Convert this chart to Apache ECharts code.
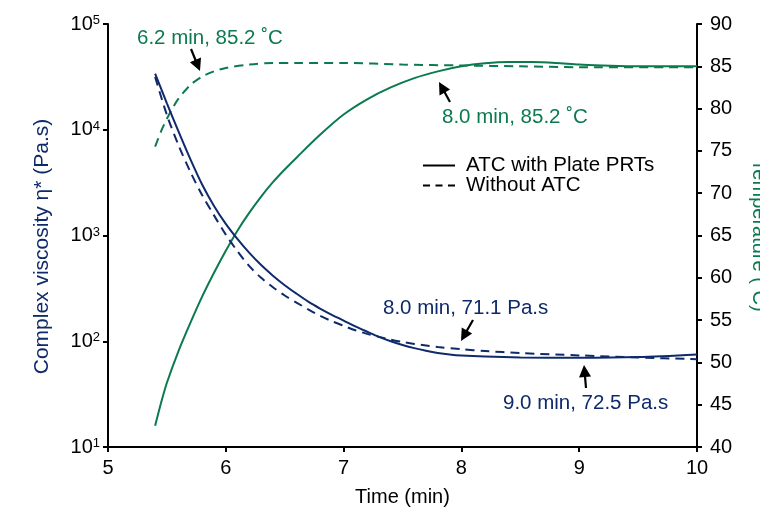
<!DOCTYPE html>
<html>
<head>
<meta charset="utf-8">
<script src="https://cdn.jsdelivr.net/npm/echarts@6/dist/echarts.min.js"></script>
<style>html,body{margin:0;padding:0;background:#fff}#c{width:760px;height:511px}</style>
</head>
<body>
<div id="c"></div>
<script>
// ---- data ----
const viscTime = [5.4,5.5,5.6,5.7,5.8,5.9,6.0,6.1,6.2,6.3,6.4,6.5,6.6,6.7,6.8,6.9,7.0,7.1,7.2,7.3,7.4,7.5,7.6,7.7,7.8,7.9,8.0,8.2,8.5,9.0,9.5,10.0];
const viscATC  = [33900,17800,9550,5250,3020,1905,1288,923,684,525,417,339,282,237,204,178,157,138,123,110,100,92.3,86.1,81.3,77.6,75.0,73.3,71.6,70.3,69.7,70.8,75.0];
const viscNoATCTime = [5.4,5.5,5.6,5.7,5.8,5.9,6.0,6.1,6.2,6.3,6.4,6.5,6.6,6.7,6.8,6.9,7.0,7.1,7.2,7.3,7.4,7.5,7.6,7.7,7.8,8.0,8.2,8.5,9.0,9.5,10.0];
const viscNoATC = [31600,13800,7080,3980,2400,1550,1020,708,513,398,324,271,232,200,174,155,140,127,117.5,110,103.5,98.4,94.4,91.2,88.3,84.1,80.9,77.4,73.5,70.3,67.6];
const tempATCTime = [5.40,5.45,5.50,5.60,5.70,5.80,5.90,6.00,6.10,6.20,6.30,6.40,6.50,6.60,6.80,7.00,7.20,7.40,7.60,7.80,8.00,8.20,8.40,8.60,8.80,9.00,9.20,9.50,10.0];
const tempATC     = [42.5,45.2,47.6,51.4,54.7,57.8,60.6,63.2,65.6,67.7,69.6,71.3,72.8,74.2,76.9,79.3,81.1,82.5,83.6,84.4,85.0,85.35,85.5,85.5,85.4,85.2,85.1,85.0,85.0];
const tempNoATCTime = [5.40,5.45,5.50,5.55,5.60,5.70,5.80,5.90,6.00,6.20,6.40,6.60,7.00,7.50,8.00,8.50,9.00,10.0];
const tempNoATC     = [75.5,77.3,78.8,80.1,81.2,82.8,83.8,84.4,84.8,85.2,85.4,85.4,85.4,85.2,85.1,85.0,84.9,84.9];
const xTicks = [5,6,7,8,9,10];
const viscTickExponents = [1,2,3,4,5];
const tempTicks = [40,45,50,55,60,65,70,75,80,85,90];
const legendNames = ['ATC with Plate PRTs','Without ATC'];
const annotations = ['6.2 min, 85.2 \u02DAC','8.0 min, 85.2 \u02DAC','8.0 min, 71.1 Pa.s','9.0 min, 72.5 Pa.s'];

// ---- style ----
const NAVY = '#0f2a6b';
const GREEN = '#0b7a4f';
const FONT = 'Liberation Sans, Arial, sans-serif';
const DASH = [9,6];
const pairs = (xs, ys) => xs.map((x, i) => [x, ys[i]]);

function arrow(tail, tip) {
  const dx = tip[0]-tail[0], dy = tip[1]-tail[1];
  const L = Math.sqrt(dx*dx+dy*dy), ux = dx/L, uy = dy/L;
  const hl = 12, hw = 6;
  const bx = tip[0]-ux*hl, by = tip[1]-uy*hl;
  return [
    {type:'line', shape:{x1:tail[0], y1:tail[1], x2:bx+ux*2, y2:by+uy*2}, style:{stroke:'#000', lineWidth:2.2}},
    {type:'polygon', shape:{points:[tip,[bx-uy*hw, by+ux*hw],[bx+uy*hw, by-ux*hw]]}, style:{fill:'#000'}}
  ];
}
function note(text, x, y, color) {
  return {type:'text', x:x, y:y, style:{text:text, fill:color, font:'20.5px '+FONT, align:'left', verticalAlign:'middle'}};
}

const chart = echarts.init(document.getElementById('c'), null, {renderer:'canvas'});
const axisLine = {show:true, lineStyle:{color:'#000', width:2}};
const axisTick = {show:true, inside:false, length:5, lineStyle:{color:'#000', width:2}};

chart.setOption({
  animation:false,
  backgroundColor:'#fff',
  textStyle:{fontFamily:FONT},
  grid:{left:108, right:63, top:24, bottom:64, containLabel:false, outerBoundsMode:'none'},
  legend:{
    orient:'vertical', left:423, top:155, padding:0, itemWidth:32, itemHeight:2, itemGap:-1,
    textStyle:{fontFamily:FONT, fontSize:20.5, color:'#000', lineHeight:20, padding:[0,0,0,6]},
    data:[
      {name:legendNames[0], icon:'path://M0,0H32V2H0Z', itemStyle:{color:'#000'}},
      {name:legendNames[1], icon:'path://M0,0H7V2H0Z M12.5,0H19.5V2H12.5Z M25,0H32V2H25Z', itemStyle:{color:'#000'}}
    ]
  },
  xAxis:{
    type:'value', min:xTicks[0], max:xTicks[xTicks.length-1], interval:1,
    name:'Time (min)', nameLocation:'middle', nameGap:40,
    nameTextStyle:{fontFamily:FONT, fontSize:20, color:'#000'},
    axisLine, axisTick,
    axisLabel:{fontFamily:FONT, fontSize:20, color:'#000', margin:11},
    splitLine:{show:false}
  },
  yAxis:[{
    type:'log', logBase:10, min:Math.pow(10,viscTickExponents[0]), max:Math.pow(10,viscTickExponents[viscTickExponents.length-1]),
    position:'left',
    name:'Complex viscosity \u03B7* (Pa.s)', nameLocation:'middle', nameGap:55,
    nameTextStyle:{fontFamily:FONT, fontSize:21, color:NAVY, padding:[0,22,0,0]},
    axisLine, axisTick, minorTick:{show:false},
    axisLabel:{
      margin:8,
      formatter: v => '{b|10}{s|' + Math.round(Math.log10(v)) + '}',
      rich:{
        b:{fontFamily:FONT, fontSize:20, color:'#000'},
        s:{fontFamily:FONT, fontSize:13, color:'#000', verticalAlign:'top'}
      }
    },
    splitLine:{show:false}
  },{
    type:'value', min:tempTicks[0], max:tempTicks[tempTicks.length-1], interval:5,
    position:'right',
    name:'Temperature (\u02DAC)', nameLocation:'middle', nameGap:52, nameRotate:-90,
    nameTextStyle:{fontFamily:FONT, fontSize:20, color:GREEN},
    axisLine, axisTick,
    axisLabel:{fontFamily:FONT, fontSize:20, color:'#000', margin:13},
    splitLine:{show:false}
  }],
  series:[
    {name:'viscATC', type:'line', yAxisIndex:0, data:pairs(viscTime, viscATC), showSymbol:false, symbol:'none', smooth:0.3,
     lineStyle:{color:NAVY, width:2}, itemStyle:{color:NAVY}, z:3},
    {name:'viscNoATC', type:'line', yAxisIndex:0, data:pairs(viscNoATCTime, viscNoATC), showSymbol:false, symbol:'none', smooth:0.3,
     lineStyle:{color:NAVY, width:2, type:DASH}, itemStyle:{color:NAVY}, z:3},
    {name:'tempATC', type:'line', yAxisIndex:1, data:pairs(tempATCTime, tempATC), showSymbol:false, symbol:'none', smooth:0.3,
     lineStyle:{color:GREEN, width:2}, itemStyle:{color:GREEN}, z:2},
    {name:'tempNoATC', type:'line', yAxisIndex:1, data:pairs(tempNoATCTime, tempNoATC), showSymbol:false, symbol:'none', smooth:0.3,
     lineStyle:{color:GREEN, width:2, type:DASH}, itemStyle:{color:GREEN}, z:2},
    {name:legendNames[0], type:'line', yAxisIndex:1, data:[], symbol:'none', lineStyle:{color:'#000', width:2}, itemStyle:{color:'#000'}},
    {name:legendNames[1], type:'line', yAxisIndex:1, data:[], symbol:'none', lineStyle:{color:'#000', width:2, type:[6,5]}, itemStyle:{color:'#000'}}
  ],
  graphic:[
    note(annotations[0], 137, 38, GREEN),
    note(annotations[1], 442, 117, GREEN),
    note(annotations[2], 383, 308, NAVY),
    note(annotations[3], 503, 403, NAVY),
    ...arrow([191,49],[200,71]),
    ...arrow([450,102],[439,82]),
    ...arrow([473,320],[461,341]),
    ...arrow([586,388],[584,365])
  ]
});
</script>
</body>
</html>
